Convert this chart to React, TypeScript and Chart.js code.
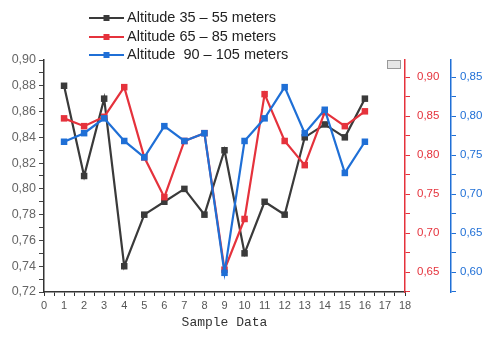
import { useEffect, useRef } from 'react';
import { Chart, registerables } from 'chart.js';

Chart.register(...registerables);

const samples = [1, 2, 3, 4, 5, 6, 7, 8, 9, 10, 11, 12, 13, 14, 15, 16];
const alt35 = [0.88, 0.81, 0.87, 0.74, 0.78, 0.79, 0.8, 0.78, 0.83, 0.75, 0.79, 0.78, 0.84, 0.85, 0.84, 0.87];
const alt65 = [0.847, 0.837, 0.849, 0.887, 0.797, 0.746, 0.818, 0.828, 0.653, 0.718, 0.878, 0.818, 0.787, 0.855, 0.837, 0.856];
const alt90 = [0.767, 0.778, 0.797, 0.768, 0.747, 0.787, 0.768, 0.778, 0.599, 0.768, 0.797, 0.837, 0.778, 0.808, 0.727, 0.767];
const seriesLabels = ['Altitude 35 \u2013 55 meters', 'Altitude 65 \u2013 85 meters', 'Altitude  90 \u2013 105 meters'];
const xTicks = [0, 1, 2, 3, 4, 5, 6, 7, 8, 9, 10, 11, 12, 13, 14, 15, 16, 17, 18];
const leftTicks = [0.72, 0.74, 0.76, 0.78, 0.8, 0.82, 0.84, 0.86, 0.88, 0.9];
const redTicks = [0.65, 0.7, 0.75, 0.8, 0.85, 0.9];
const blueTicks = [0.6, 0.65, 0.7, 0.75, 0.8, 0.85];

const BLACK = '#3a3a3a';
const RED = '#e5323c';
const BLUE = '#1f6fd6';

function withMinor(major: number[], extendLow = 0, extendHigh = 0) {
  const step = major[1] - major[0];
  const out: { value: number }[] = [];
  for (let i = 0; i < major.length; i++) {
    out.push({ value: major[i] });
    if (i < major.length - 1) out.push({ value: Math.round((major[i] + step / 2) * 10000) / 10000 });
  }
  if (extendLow) out.unshift({ value: Math.round((major[0] - step / 2) * 10000) / 10000 });
  if (extendHigh) out.push({ value: Math.round((major[major.length - 1] + step / 2) * 10000) / 10000 });
  return out;
}

function isMajor(v: number, major: number[]) {
  return major.some((m) => Math.abs(m - v) < 1e-6);
}

const fmt = (v: number) => v.toFixed(2).replace('.', ',');

const legendPlugin = {
  id: 'customLegend',
  afterDraw(chart: any) {
    const ctx = chart.ctx;
    const colors = [BLACK, RED, BLUE];
    const ys = [18, 37, 55];
    ctx.save();
    seriesLabels.forEach((label, i) => {
      const y = ys[i];
      ctx.strokeStyle = colors[i];
      ctx.lineWidth = 2;
      ctx.beginPath();
      ctx.moveTo(89, y);
      ctx.lineTo(124, y);
      ctx.stroke();
      ctx.fillStyle = colors[i];
      ctx.fillRect(103.5, y - 3, 6, 6);
      ctx.fillStyle = '#222';
      ctx.font = '14.5px "Liberation Sans", Arial, sans-serif';
      ctx.textBaseline = 'middle';
      ctx.textAlign = 'left';
      ctx.fillText(label, 127, y);
    });
    // small toolbar glyph at top right of plot
    ctx.fillStyle = '#e6e6e6';
    ctx.fillRect(387, 60, 14, 9);
    ctx.strokeStyle = '#999';
    ctx.lineWidth = 1;
    ctx.strokeRect(387.5, 60.5, 13, 8);
    ctx.restore();
  },
};

export default function App() {
  const ref = useRef<HTMLCanvasElement>(null);

  useEffect(() => {
    if (!ref.current) return;
    Chart.defaults.font.family = '"Liberation Sans", Arial, sans-serif';
    const mk = (vals: number[]) => samples.map((x, i) => ({ x, y: vals[i] }));
    const ds = (label: string, vals: number[], color: string, axis: string, order: number) => ({
      label,
      data: mk(vals),
      yAxisID: axis,
      order,
      borderColor: color,
      backgroundColor: color,
      borderWidth: 2.2,
      pointStyle: 'rect',
      pointRadius: 4.6,
      pointBorderWidth: 0,
      tension: 0,
    });
    const chart = new Chart(ref.current, {
      type: 'line',
      data: {
        datasets: [
          ds(seriesLabels[0], alt35, BLACK, 'y', 2),
          ds(seriesLabels[1], alt65, RED, 'y1', 1),
          ds(seriesLabels[2], alt90, BLUE, 'y2', 0),
        ] as any,
      },
      options: {
        animation: false,
        responsive: true,
        maintainAspectRatio: false,
        layout: { padding: { top: 60, left: 0, right: 0, bottom: 0 } },
        plugins: { legend: { display: false }, tooltip: { enabled: false } },
        scales: {
          x: {
            type: 'linear',
            min: 0,
            max: 18,
            afterBuildTicks: (s: any) => {
              s.ticks = withMinor(xTicks);
            },
            afterFit: (s: any) => {
              s.height = 48;
            },
            ticks: {
              autoSkip: false,
              maxRotation: 0,
              padding: 3,
              color: '#555',
              font: { size: 11 },
              callback: (v: any) => (isMajor(Number(v), xTicks) ? String(v) : ''),
            },
            grid: { drawOnChartArea: false, tickLength: 4, color: '#333', lineWidth: 1 },
            border: { color: '#333', width: 1.5 },
            title: {
              display: true,
              text: 'Sample Data',
              color: '#333',
              font: { family: '"Liberation Mono", "DejaVu Sans Mono", monospace', size: 13 },
              padding: { top: 0, bottom: 10 },
            },
          },
          y: {
            position: 'left',
            min: 0.72,
            max: 0.9,
            afterBuildTicks: (s: any) => {
              s.ticks = withMinor(leftTicks);
            },
            afterFit: (s: any) => {
              s.width = 44;
            },
            ticks: {
              autoSkip: false,
              padding: 3,
              color: '#666',
              font: { size: 12.5 },
              callback: (v: any) => (isMajor(Number(v), leftTicks) ? fmt(Number(v)) : ''),
            },
            grid: { drawOnChartArea: false, tickLength: 5, color: '#444' },
            border: { color: '#333', width: 1.5 },
          },
          y1: {
            position: 'right',
            weight: 0,
            min: 0.6244,
            max: 0.9218,
            afterBuildTicks: (s: any) => {
              s.ticks = withMinor(redTicks, 1, 0);
            },
            afterFit: (s: any) => {
              s.width = 46;
            },
            ticks: {
              autoSkip: false,
              padding: 7,
              color: RED,
              font: { size: 11.5 },
              callback: (v: any) => (isMajor(Number(v), redTicks) ? fmt(Number(v)) : ''),
            },
            grid: { drawOnChartArea: false, tickLength: 5, color: RED },
            border: { color: RED, width: 1.5 },
          },
          y2: {
            position: 'right',
            weight: 1,
            min: 0.5744,
            max: 0.8718,
            afterBuildTicks: (s: any) => {
              s.ticks = withMinor(blueTicks, 1, 0);
            },
            afterFit: (s: any) => {
              s.width = 35;
            },
            ticks: {
              autoSkip: false,
              padding: 4,
              color: BLUE,
              font: { size: 11.5 },
              callback: (v: any) => (isMajor(Number(v), blueTicks) ? fmt(Number(v)) : ''),
            },
            grid: { drawOnChartArea: false, tickLength: 5, color: BLUE },
            border: { color: BLUE, width: 1.5 },
          },
        },
      } as any,
      plugins: [legendPlugin],
    });
    return () => chart.destroy();
  }, []);

  return (
    <div style={{ position: 'fixed', left: 0, top: 0, width: 486, height: 340, background: '#fff' }}>
      <canvas ref={ref} />
    </div>
  );
}
